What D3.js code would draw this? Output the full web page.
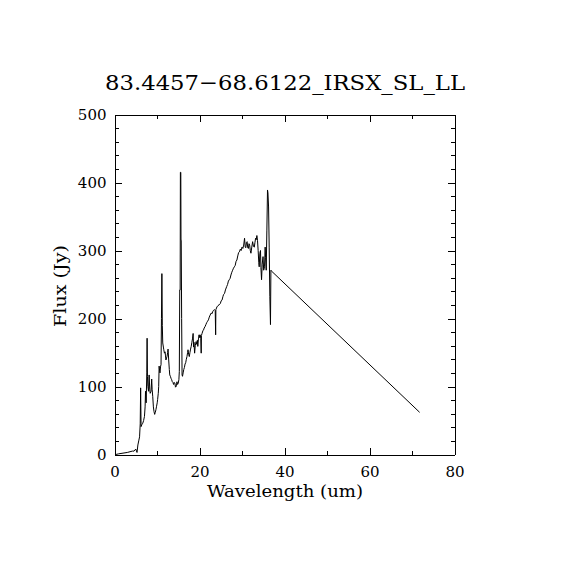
<!DOCTYPE html>
<html>
<head>
<meta charset="utf-8">
<script src="https://cdn.jsdelivr.net/npm/d3@7"></script>
<style>
  html, body { margin: 0; padding: 0; background: #fff; }
  svg { display: block; }
  text { font-family: "DejaVu Serif", serif; fill: #000; }
</style>
</head>
<body>
<svg id="chart" width="570" height="570"></svg>
<script>
const titleText = "83.4457\u221268.6122_IRSX_SL_LL";
const xLabel = "Wavelength (um)";
const yLabel = "Flux (Jy)";
const xTicks = [0, 20, 40, 60, 80];
const xMinorTicks = [10, 30, 50, 70];
const yTicks = [0, 100, 200, 300, 400, 500];
const yMinorTicks = [20, 40, 60, 80, 120, 140, 160, 180, 220, 240, 260, 280, 320, 340, 360, 380, 420, 440, 460, 480];

const wavelength = [
  0.3, 1.0, 2.0, 3.0, 4.2, 4.6, 5.0, 5.3, 5.5, 5.7, 5.9, 6.05, 6.15, 6.25, 6.45, 6.65, 6.85, 7.05, 7.2, 7.3,
  7.45, 7.6, 7.67, 7.75, 7.85, 8.0, 8.15, 8.3, 8.4, 8.6, 8.75, 8.85, 9.0, 9.15, 9.3, 9.45, 9.6, 9.75, 9.9, 10.05,
  10.15, 10.3, 10.4, 10.5, 10.55, 10.7, 10.85, 10.95, 11.05, 11.15, 11.25, 11.35, 11.5, 11.6, 11.75, 11.9, 12.0, 12.1, 12.25, 12.35,
  12.5, 12.6, 12.75, 12.9, 13.0, 13.15, 13.3, 13.45, 13.6, 13.75, 13.9, 14.05, 14.2, 14.35, 14.5, 14.6, 14.7, 14.85, 15.0, 15.15,
  15.25, 15.35, 15.45, 15.5, 15.6, 15.65, 15.7, 15.8, 15.9, 16.0, 16.15, 16.3, 16.45, 16.6, 16.75, 16.9, 17.05, 17.2, 17.3, 17.45,
  17.6, 17.75, 17.9, 18.05, 18.2, 18.35, 18.5, 18.6, 18.7, 18.85, 19.0, 19.2, 19.35, 19.5, 19.6, 19.75, 19.9, 20.0, 20.15, 20.3,
  20.4, 20.45, 20.6, 20.8, 20.95, 21.1, 21.3, 21.5, 21.7, 21.9, 22.1, 22.3, 22.5, 22.75, 22.95, 23.1, 23.3, 23.5, 23.7, 23.8,
  23.85, 24.1, 24.35, 24.6, 24.9, 25.1, 25.3, 25.5, 25.65, 25.9, 26.1, 26.4, 26.6, 26.8, 27.0, 27.2, 27.4, 27.6, 27.8, 28.0,
  28.2, 28.4, 28.6, 28.8, 29.0, 29.2, 29.4, 29.6, 29.8, 30.0, 30.2, 30.4, 30.6, 30.75, 30.9, 31.05, 31.2, 31.35, 31.5, 31.65,
  31.8, 31.95, 32.1, 32.3, 32.5, 32.7, 32.9, 33.05, 33.2, 33.35, 33.5, 33.65, 33.8, 33.95, 34.05, 34.2, 34.35, 34.45, 34.6, 34.75,
  34.95, 35.1, 35.3, 35.45, 35.55, 35.7, 35.85, 36.0, 36.1, 36.25, 36.4, 36.55, 36.7, 36.8, 36.9, 71.8
];
const flux = [
  0, 1, 2, 3, 5, 5, 8, 3, 14, 20, 26, 45, 98, 41, 44, 46, 50, 56, 70, 93,
  76, 120, 171, 115, 100, 93, 117, 95, 90, 93, 111, 96, 85, 70, 63, 59, 62, 66, 71, 76,
  81, 90, 100, 130, 127, 120, 130, 132, 200, 266, 190, 164, 158, 154, 149, 151, 145, 139, 142, 144,
  150, 155, 139, 125, 117, 115, 112, 110, 107, 106, 103, 106, 105, 99, 100, 104, 107, 103, 105, 110,
  122, 242, 242, 415, 415, 315, 315, 200, 117, 115, 120, 125, 128, 133, 135, 140, 144, 150, 154, 147,
  144, 150, 155, 159, 165, 170, 178, 158, 165, 149, 160, 166, 162, 168, 159, 170, 176, 172, 176, 171,
  149, 175, 178, 182, 183, 186, 188, 191, 194, 196, 198, 202, 205, 208, 207, 210, 212, 213, 212, 176,
  213, 217, 219, 220, 222, 226, 227, 232, 235, 237, 242, 247, 250, 255, 257, 259, 264, 268, 271, 274,
  276, 278, 284, 286, 292, 297, 298, 302, 300, 305, 303, 308, 318, 305, 304, 312, 313, 304, 303, 310,
  308, 300, 296, 305, 313, 306, 305, 312, 318, 316, 322, 315, 300, 282, 276, 296, 300, 275, 257, 280,
  291, 271, 276, 305, 290, 271, 330, 389, 385, 364, 305, 232, 191, 271, 270, 62
];

const svg = d3.select("#chart");
const x = d3.scaleLinear().domain([0, 80]).range([114.5, 454.5]);
const y = d3.scaleLinear().domain([0, 500]).range([454.5, 114.5]);

const majorLen = 7, minorLen = 4;

function styleAxis(g) {
  g.select(".domain").attr("stroke", "#000").attr("stroke-width", 1);
  g.selectAll(".tick line").attr("stroke", "#000").attr("stroke-width", 1);
  g.attr("shape-rendering", "crispEdges");
}

// bottom axis with labels
const gb = svg.append("g").attr("transform", `translate(0,${y(0)})`)
  .call(d3.axisBottom(x).tickValues(xTicks).tickSizeInner(-majorLen).tickSizeOuter(0).tickPadding(12).tickFormat(d3.format("d")));
styleAxis(gb);
gb.selectAll("text").attr("font-size", 15).attr("font-family", "DejaVu Serif").attr("fill", "#000");
const gbm = svg.append("g").attr("transform", `translate(0,${y(0)})`)
  .call(d3.axisBottom(x).tickValues(xMinorTicks).tickSizeInner(-minorLen).tickSizeOuter(0).tickFormat(""));
styleAxis(gbm); gbm.select(".domain").remove();

// top axis
const gt = svg.append("g").attr("transform", `translate(0,${y(500)})`)
  .call(d3.axisTop(x).tickValues(xTicks).tickSizeInner(-majorLen).tickSizeOuter(0).tickFormat(""));
styleAxis(gt);
const gtm = svg.append("g").attr("transform", `translate(0,${y(500)})`)
  .call(d3.axisTop(x).tickValues(xMinorTicks).tickSizeInner(-minorLen).tickSizeOuter(0).tickFormat(""));
styleAxis(gtm); gtm.select(".domain").remove();

// left axis with labels
const gl = svg.append("g").attr("transform", `translate(${x(0)},0)`)
  .call(d3.axisLeft(y).tickValues(yTicks).tickSizeInner(-majorLen).tickSizeOuter(0).tickPadding(8).tickFormat(d3.format("d")));
styleAxis(gl);
gl.selectAll("text").attr("font-size", 15).attr("font-family", "DejaVu Serif").attr("fill", "#000");
const glm = svg.append("g").attr("transform", `translate(${x(0)},0)`)
  .call(d3.axisLeft(y).tickValues(yMinorTicks).tickSizeInner(-minorLen).tickSizeOuter(0).tickFormat(""));
styleAxis(glm); glm.select(".domain").remove();

// right axis
const gr = svg.append("g").attr("transform", `translate(${x(80)},0)`)
  .call(d3.axisRight(y).tickValues(yTicks).tickSizeInner(-majorLen).tickSizeOuter(0).tickFormat(""));
styleAxis(gr);
const grm = svg.append("g").attr("transform", `translate(${x(80)},0)`)
  .call(d3.axisRight(y).tickValues(yMinorTicks).tickSizeInner(-minorLen).tickSizeOuter(0).tickFormat(""));
styleAxis(grm); grm.select(".domain").remove();

// spectrum
const pts = wavelength.map((w, i) => [w, flux[i]]);
svg.append("path")
  .datum(pts)
  .attr("fill", "none")
  .attr("stroke", "#000")
  .attr("stroke-width", 1)
  .attr("d", d3.line().x(d => x(d[0])).y(d => y(d[1])));

// title
svg.append("text")
  .attr("x", 285).attr("y", 90)
  .attr("text-anchor", "middle")
  .attr("font-size", 21)
  .attr("textLength", 360).attr("lengthAdjust", "spacingAndGlyphs")
  .text(titleText);

// axis titles
svg.append("text")
  .attr("x", 285).attr("y", 497)
  .attr("text-anchor", "middle")
  .attr("font-size", 16)
  .attr("textLength", 156).attr("lengthAdjust", "spacingAndGlyphs")
  .text(xLabel);

svg.append("text")
  .attr("transform", "translate(66,286) rotate(-90)")
  .attr("text-anchor", "middle")
  .attr("font-size", 16)
  .attr("textLength", 82).attr("lengthAdjust", "spacingAndGlyphs")
  .text(yLabel);
</script>
</body>
</html>
